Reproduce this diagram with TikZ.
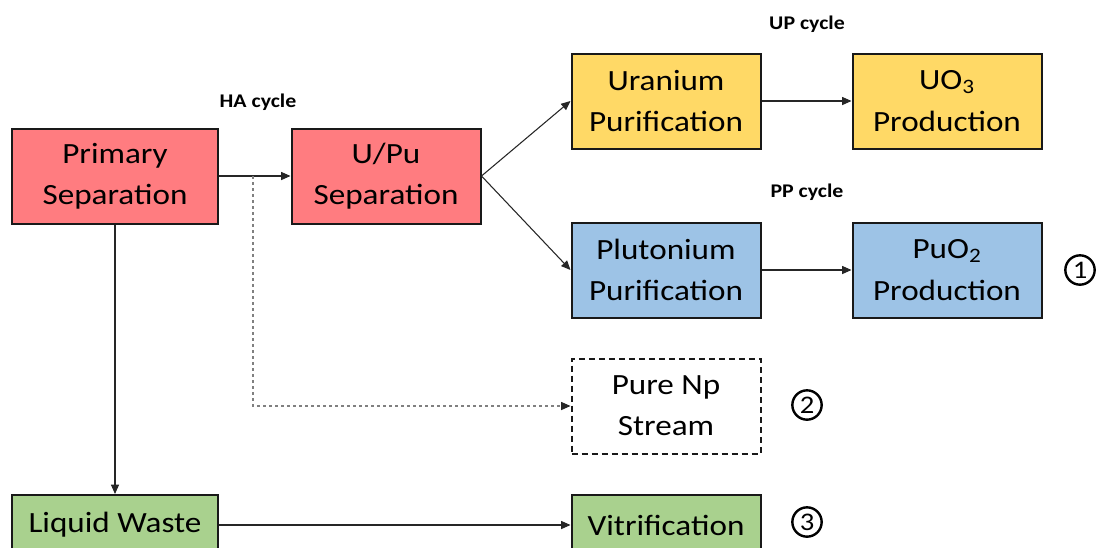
\documentclass[tikz,border=0pt]{standalone}
\usepackage{fontspec}
\setmainfont{Carlito}[FakeStretch=1.13]
\usetikzlibrary{arrows.meta}

\definecolor{sepred}{HTML}{FF7C80}
\definecolor{uyellow}{HTML}{FFD966}
\definecolor{publue}{HTML}{9DC3E6}
\definecolor{wgreen}{HTML}{A9D18E}

\tikzset{
  stage/.style={draw=black!90, line width=1.5pt, align=center, inner sep=2pt,
    minimum height=71.25pt, font=\fontsize{22}{31}\selectfont},
  widebox/.style={stage, minimum width=154.5pt},
  narrowbox/.style={stage, minimum width=141.75pt},
  shortbox/.style={minimum height=45pt},
  flow/.style={draw=black!85, line width=0.8pt, -{Triangle[length=7pt,width=6pt]}},
  side/.style={draw=black!50, line width=0.8pt, dash pattern=on 2.5pt off 2pt,
    -{Triangle[length=7pt,width=6pt,color=black!85]}},
  cyclelabel/.style={font=\bfseries\fontsize{14.5}{16}\selectfont},
  marker/.style={circle, draw=black, line width=1.8pt, minimum size=22pt, inner sep=0pt,
    font=\fontsize{19}{19}\selectfont}
}

\begin{document}
\begin{tikzpicture}[x=0.75pt, y=-0.75pt]
  \useasboundingbox (0,0) rectangle (1102,547);
  \clip (0,0) rectangle (1102,547);

  % process stages
  \node[widebox, fill=sepred] (prim) at (115,176) {Primary\\Separation};
  \node[narrowbox, fill=sepred] (upu) at (386,176) {U/Pu\\Separation};
  \node[narrowbox, fill=uyellow] (urp) at (666,101) {Uranium\\Purification};
  \node[narrowbox, fill=uyellow] (uo3) at (947,101) {UO\textsubscript{3}\\Production};
  \node[narrowbox, fill=publue] (pup) at (666,270) {Plutonium\\Purification};
  \node[narrowbox, fill=publue] (puo2) at (947,270) {PuO\textsubscript{2}\\Production};
  \node[narrowbox, dashed, dash pattern=on 4.5pt off 3pt, fill=white] (np) at (666,406) {Pure Np\\Stream};
  \node[widebox, shortbox, fill=wgreen] (lw) at (115,525) {Liquid Waste};
  \node[narrowbox, shortbox, fill=wgreen] (vit) at (666,525) {Vitrification};

  % cycle names
  \node[cyclelabel] (ha) at (258,102) {HA cycle};
  \node[cyclelabel] (up) at (807,24) {UP cycle};
  \node[cyclelabel] (pp) at (807,192) {PP cycle};

  % product markers
  \node[marker] (m1) at (1080,270) {1};
  \node[marker] (m2) at (807,405) {2};
  \node[marker] (m3) at (807,522) {3};

  % flows
  \coordinate (split) at (253,176);
  \draw[flow] (prim.east) -- (upu.west);
  \draw[flow] (upu.east) -- (urp.west);
  \draw[flow] (upu.east) -- (pup.west);
  \draw[flow] (urp) -- (uo3);
  \draw[flow] (pup) -- (puo2);
  \draw[flow] (prim.south) -- (lw.north);
  \draw[flow] (lw) -- (vit);
  \draw[side] (split) |- (np.west);
\end{tikzpicture}
\end{document}
